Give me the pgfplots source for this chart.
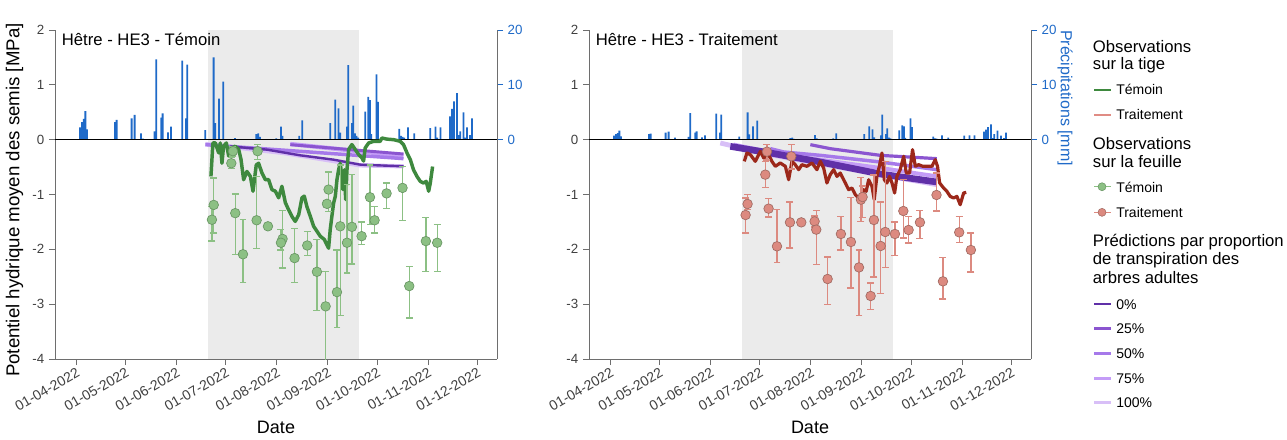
\documentclass[border=0pt]{standalone}
\usepackage{fontspec}
\setmainfont{Liberation Sans}
\usepackage{pgfplots}
\usepackage{pgfplotstable}
\pgfplotsset{compat=1.18}

\definecolor{rainblue}{RGB}{31,106,200}
\definecolor{axisgray}{RGB}{110,110,110}
\definecolor{summer}{RGB}{235,235,235}
\definecolor{stemT}{RGB}{62,137,62}
\definecolor{leafT}{RGB}{140,192,132}
\definecolor{leafTedge}{RGB}{105,150,100}
\definecolor{stemR}{RGB}{156,40,26}
\definecolor{stemRleg}{RGB}{224,140,132}
\definecolor{leafR}{RGB}{220,138,128}
\definecolor{leafRedge}{RGB}{160,106,98}
\definecolor{pA}{RGB}{96,48,168}
\definecolor{pB}{RGB}{139,85,208}
\definecolor{pC}{RGB}{166,121,234}
\definecolor{pD}{RGB}{196,156,247}
\definecolor{pE}{RGB}{216,191,247}

% precipitation (mm), control
\pgfplotstableread{
day mm
93.25 2.25
94.47 3.2
95.44 3.8
96.48 5.2
97.51 1.9
114.54 3.2
115.51 3.6
124.64 3.9
126.47 4.5
130.36 1.15
131.58 0.2
138.64 1.5
139.67 14.65
142.71 4.0
143.5 4.8
146.79 1.35
148.61 2.4
155.49 14.4
157.74 3.9
158.53 13.7
169.48 1.76
174.53 15.0
175.56 3.0
177.82 7.5
180.43 10.6
187.55 0.3
200.51 1.0
201.73 1.15
202.76 0.5
212.68 0.25
215.54 2.4
216.51 0.7
226.67 0.7
228.5 3.5
245.53 3.0
248.57 7.3
250.58 5.7
251.61 1.3
255.69 2.4
256.48 13.6
258.73 3.0
259.52 6.2
260.56 1.15
261.53 0.7
262.56 0.35
266.82 5.1
268.65 7.8
269.68 7.2
270.47 1.0
273.7 11.9
274.55 6.9
277.96 0.25
287.51 1.95
288.54 0.7
289.52 0.5
290.55 0.35
292.8 2.25
296.63 1.15
306.37 2.1
309.59 2.4
310.63 0.35
312.63 2.25
318.35 4.25
319.57 5.6
320.78 7.0
322.61 8.5
323.58 0.85
324.61 1.5
326.62 5.0
327.65 0.35
328.68 2.25
330.51 0.85
331.73 3.9
}\rainT

% precipitation (mm), treatment
\pgfplotstableread{
day mm
93.25 0.73
94.47 1.03
95.44 1.2
96.48 1.64
97.51 0.6
114.54 1.03
115.51 1.1
124.64 1.28
126.47 1.46
130.36 0.36
131.58 0.07
138.64 0.49
139.67 4.86
142.71 1.28
143.5 1.52
146.79 0.43
148.61 0.79
155.49 4.74
157.74 1.28
158.53 4.56
169.48 0.55
174.53 4.98
175.56 0.97
177.82 2.43
180.43 3.47
187.55 0.1
200.51 0.3
201.73 0.36
202.76 0.15
212.68 0.08
215.54 0.85
216.51 0.23
226.67 0.23
228.5 1.16
245.53 1.0
248.57 2.43
250.58 1.9
251.61 0.43
255.69 0.8
256.48 4.56
258.73 1.03
259.52 2.07
260.56 0.36
261.53 0.23
262.56 0.12
266.82 1.7
268.65 2.6
269.68 2.43
270.47 0.33
273.7 3.9
274.55 2.3
277.96 0.08
287.51 0.55
288.54 0.23
289.52 0.17
290.55 0.12
292.8 0.79
296.63 0.36
306.37 0.73
309.59 0.79
310.63 0.12
312.63 0.79
318.35 1.46
319.57 1.83
320.78 2.3
322.61 2.8
323.58 0.28
324.61 1.03
326.62 1.64
327.65 0.12
328.68 0.73
330.51 0.28
331.73 1.28
}\rainR

% stem water potential, control
\pgfplotstableread{
day psi
172.9 -0.67
174.1 -0.06
175.6 -0.06
177.6 -0.24
178.6 -0.06
179.6 -0.43
180.6 -0.12
182.3 -0.06
183.7 -0.30
185.7 -0.15
187.7 -0.12
189.8 -0.18
191.2 -0.36
192.8 -0.73
194.8 -0.58
196.9 -0.67
198.5 -0.94
200.5 -0.46
201.9 -0.43
204.0 -0.61
206.0 -0.73
208.0 -0.73
210.0 -0.91
212.1 -0.94
214.1 -1.06
216.1 -0.85
218.2 -1.15
220.2 -1.28
222.2 -1.40
224.2 -1.49
226.3 -1.37
228.3 -1.06
229.7 -1.03
231.3 -1.22
233.4 -1.40
235.4 -1.58
237.4 -1.67
239.4 -1.76
241.9 -1.82
244.5 -1.98
245.5 -1.64
246.5 -1.40
247.6 -1.15
248.6 -1.03
249.6 -0.73
250.6 -0.55
251.6 -0.43
252.6 -0.67
253.2 -0.91
254.1 -0.55
254.9 -1.09
255.7 -0.55
256.7 -0.18
258.7 -0.09
260.7 -0.18
262.8 -0.27
264.8 -0.33
265.8 -0.39
266.8 -0.15
268.9 -0.06
271.9 -0.03
275.9 -0.03
277.0 0.03
280.0 0.01
284.1 0.00
288.1 -0.03
290.1 -0.09
292.2 -0.24
294.2 -0.36
296.2 -0.55
298.3 -0.67
300.3 -0.76
302.3 -0.79
303.9 -0.76
305.4 -0.94
306.4 -0.79
307.8 -0.49
}\stemTab

% stem water potential, treatment
\pgfplotstableread{
day psi
172.5 -0.395
174.1 -0.243
176.2 -0.273
179.2 -0.395
182.3 -0.213
184.3 -0.334
187.3 -0.273
189.3 -0.395
191.4 -0.486
194.4 -0.425
197.5 -0.486
199.5 -0.730
201.5 -0.395
203.5 -0.456
205.6 -0.547
207.6 -0.456
210.6 -0.486
213.7 -0.425
216.7 -0.547
218.8 -0.395
220.8 -0.517
222.8 -0.790
224.8 -0.638
226.9 -0.547
228.9 -0.669
230.9 -0.608
234.0 -0.790
236.0 -0.912
238.0 -0.881
240.1 -1.003
242.1 -1.064
243.5 -1.094
245.1 -0.912
246.7 -0.942
248.2 -0.730
250.2 -0.851
251.6 -1.094
253.2 -0.669
254.7 -0.486
256.3 -0.243
257.7 -0.730
259.3 -0.790
260.9 -0.669
262.4 -0.790
264.0 -0.973
265.4 -0.669
267.4 -0.547
269.5 -0.304
271.1 -0.608
273.1 -0.608
274.9 -0.182
276.6 -0.486
278.6 -0.456
281.2 -0.486
283.7 -0.486
286.7 -0.486
288.7 -0.365
290.1 -0.486
291.4 -0.790
293.8 -0.881
295.8 -0.942
297.8 -1.034
299.9 -1.064
301.9 -1.034
303.9 -1.186
306.0 -0.973
307.6 -0.961
}\stemRab

% leaf water potential, control (mean, +err, -err)
\pgfplotstableread{
day psi ep em
174.6 -1.19 0.49 0.51
173.5 -1.46 0.24 0.39
186.3 -0.21 0.09 0.09
185.3 -0.43 0.10 0.10
187.7 -1.34 0.35 0.76
192.4 -2.09 0.64 0.52
201.3 -0.21 0.12 0.15
200.7 -1.47 0.80 0.51
207.6 -1.58 0.00 0.00
216.5 -1.81 0.52 0.53
215.5 -1.88 0.24 0.13
223.8 -2.16 0.54 0.44
231.5 -1.93 0.26 0.18
237.4 -2.41 0.59 0.70
242.7 -3.04 0.64 1.03
244.5 -0.91 0.32 0.40
243.5 -1.17 0.05 0.05
249.6 -2.78 0.77 0.64
251.6 -1.58 1.12 1.63
255.7 -1.88 1.06 0.55
258.7 -1.59 0.95 0.68
264.6 -1.76 0.26 0.15
269.7 -1.05 0.59 0.50
272.5 -1.47 0.25 0.23
279.8 -0.98 0.19 0.27
289.5 -0.88 0.39 0.59
293.6 -2.67 0.36 0.58
303.7 -1.85 0.43 0.55
310.6 -1.88 0.33 0.53
}\leafTab

% leaf water potential, treatment
\pgfplotstableread{
day psi ep em
174.5 -1.173 0.17 0.10
173.3 -1.374 0.31 0.33
186.3 -0.219 0.13 0.15
185.3 -0.638 0.24 0.23
187.3 -1.258 0.19 0.15
192.4 -1.945 0.67 0.30
201.1 -0.304 0.21 0.23
200.3 -1.508 0.37 0.47
207.2 -1.508 0.00 0.00
215.3 -1.490 0.10 0.10
216.3 -1.641 0.35 0.64
223.2 -2.541 0.40 0.47
231.3 -1.720 0.32 0.29
237.4 -1.866 0.81 0.84
242.3 -2.330 0.32 0.88
243.5 -1.094 0.40 0.40
244.5 -1.046 0.20 0.37
249.4 -2.851 0.24 0.25
251.4 -1.465 0.82 1.04
255.5 -1.939 0.80 0.87
258.3 -1.684 1.29 0.65
264.2 -1.720 0.22 0.39
269.3 -1.301 0.57 0.49
272.5 -1.647 0.25 0.24
279.4 -1.508 0.22 0.29
289.5 -1.009 0.40 0.29
293.4 -2.584 0.43 0.32
303.3 -1.690 0.29 0.19
310.4 -2.012 0.31 0.40
}\leafRab

\pgfplotsset{
  panel/.style={
    scale only axis, width=331.5pt, height=246.75pt,
    xmin=78, xmax=347, ymin=-4, ymax=2,
    axis x line*=bottom, axis y line*=left,
    axis line style={axisgray, line width=0.7pt, -},
    tick align=outside, major tick length=4.5pt,
    every tick/.style={axisgray, line width=0.7pt},
    xtick={91,121,152,182,213,244,274,305,335},
    xticklabels={01-04-2022,01-05-2022,01-06-2022,01-07-2022,01-08-2022,01-09-2022,01-10-2022,01-11-2022,01-12-2022},
    xticklabel style={rotate=30, anchor=north east, inner sep=1pt, font=\fontsize{10.5}{12}\selectfont, text=black!75},
    ytick={-4,-3,-2,-1,0,1,2},
    yticklabel style={font=\fontsize{10}{12}\selectfont, text=black!75},
    /pgf/number format/assume math mode=true,
    xlabel={Date}, xlabel style={font=\fontsize{13.5}{15}\selectfont, yshift=-2.5pt},
  },
  rain/.style={
    scale only axis, width=331.5pt, height=246.75pt,
    xmin=78, xmax=347, ymin=-40, ymax=20,
    axis x line=none, axis y line*=right,
    axis line style={axisgray, line width=0.7pt, -},
    tick align=outside, major tick length=4.5pt,
    every tick/.style={rainblue, line width=0.7pt},
    ytick={0,10,20},
    yticklabel style={font=\fontsize{10}{12}\selectfont, text=rainblue},
    /pgf/number format/assume math mode=true,
  },
  bars/.style={ybar, bar width=1.1, bar shift=0pt, fill=rainblue, draw=none},
  leaf/.style={only marks, mark=*, mark size=3.6pt,
    error bars/y dir=both, error bars/y explicit},
}

\begin{document}
\begin{tikzpicture}
\path[use as bounding box] (0,0) rectangle (965.25pt,329.25pt);

% ---------- left panel: control ----------
\begin{axis}[rain, at={(41.25pt,60pt)}, anchor=south west]
  \addplot[fill=summer, draw=none] coordinates {(171.4,-40) (171.4,20) (263,20) (263,-40)} -- cycle;
  \addplot[bars] table[x=day, y=mm] {\rainT};
\end{axis}
\begin{axis}[panel, at={(41.25pt,60pt)}, anchor=south west,
    ylabel={Potentiel hydrique moyen des semis [MPa]},
    ylabel style={font=\fontsize{14}{15}\selectfont, at={(ticklabel cs:0.483)}}]
  \addplot[black, line width=0.8pt] coordinates {(78,0) (347,0)};
  \addplot[pE, line width=3.2pt] coordinates {(169.5,-0.079) (217.1,-0.243) (263.8,-0.468) (290.1,-0.486)};
  \addplot[pD, line width=3.2pt] coordinates {(221.2,-0.079) (290.1,-0.298)};
  \addplot[pC, line width=2.6pt] coordinates {(169.5,-0.091) (227.3,-0.213) (290.1,-0.346)};
  \addplot[pB, line width=2.2pt] coordinates {(221.2,-0.091) (290.1,-0.261)};
  \addplot[pA, line width=1.8pt] coordinates {(184.7,-0.122) (207.0,-0.182) (227.3,-0.286) (247.6,-0.365) (263.8,-0.456) (290.1,-0.486)};
  \addplot[stemT, line width=2.6pt, line join=round] table[x=day, y=psi] {\stemTab};
  \addplot[leaf, mark options={fill=leafT, draw=leafTedge, line width=0.5pt},
    error bars/error bar style={leafT, line width=1pt},
    error bars/error mark options={rotate=90, mark size=2.6pt, leafT, line width=1pt}]
    table[x=day, y=psi, y error plus=ep, y error minus=em] {\leafTab};
  \node[anchor=base west, inner sep=0pt, font=\fontsize{12.5}{14}\selectfont] at (rel axis cs:0,1) [xshift=5pt, yshift=-11.3pt] {Hêtre - HE3 - Témoin};
\end{axis}

% ---------- right panel: treatment ----------
\begin{axis}[rain, at={(441.75pt,60pt)}, anchor=south west,
    ylabel={Précipitations [mm]},
    every axis y label/.style={at={(rel axis cs:1,0.793)}, xshift=25.5pt, rotate=-90, anchor=center,
      font=\fontsize{12}{14}\selectfont, text=rainblue}]
  \addplot[fill=summer, draw=none] coordinates {(171.4,-40) (171.4,20) (263,20) (263,-40)} -- cycle;
  \addplot[bars] table[x=day, y=mm] {\rainR};
\end{axis}
\begin{axis}[panel, at={(441.75pt,60pt)}, anchor=south west]
  \addplot[black, line width=0.8pt] coordinates {(78,0) (347,0)};
  \addplot[pE, line width=3.6pt] coordinates {(157.9,-0.061) (188.3,-0.274) (255.3,-0.638) (289.7,-0.821)};
  \addplot[pD, line width=3pt] coordinates {(166.0,-0.091) (196.5,-0.274) (255.3,-0.517) (289.7,-0.669)};
  \addplot[pC, line width=2.6pt] coordinates {(188.3,-0.164) (196.5,-0.225) (218.8,-0.286) (255.3,-0.407) (289.7,-0.547)};
  \addplot[pB, line width=2.4pt] coordinates {(212.7,-0.091) (224.8,-0.164) (255.3,-0.286) (289.7,-0.346)};
  \addplot[pA, line width=5pt] coordinates {(164.0,-0.122) (188.3,-0.243) (218.8,-0.407) (255.3,-0.626) (289.7,-0.772)};
  \addplot[stemR, line width=2.4pt, line join=round] table[x=day, y=psi] {\stemRab};
  \addplot[leaf, mark options={fill=leafR, draw=leafRedge, line width=0.5pt},
    error bars/error bar style={leafR, line width=1pt},
    error bars/error mark options={rotate=90, mark size=2.6pt, leafR, line width=1pt}]
    table[x=day, y=psi, y error plus=ep, y error minus=em] {\leafRab};
  \node[anchor=base west, inner sep=0pt, font=\fontsize{12.5}{14}\selectfont] at (rel axis cs:0,1) [xshift=5pt, yshift=-11.3pt] {Hêtre - HE3 - Traitement};
\end{axis}

% ---------- legend ----------
\begin{scope}[every node/.style={anchor=base west, inner sep=0pt}]
  \node[font=\fontsize{12.5}{14}\selectfont] at (819.5pt,290.0pt) {Observations};
  \node[font=\fontsize{12.5}{14}\selectfont] at (819.5pt,277.3pt) {sur la tige};
  \draw[stemT, line width=2pt] (820.5pt,261.75pt) -- (833pt,261.75pt);
  \node[font=\fontsize{10.5}{12}\selectfont] at (837pt,258.0pt) {Témoin};
  \draw[stemRleg, line width=2pt] (820.5pt,243pt) -- (833pt,243pt);
  \node[font=\fontsize{10.5}{12}\selectfont] at (837pt,239.25pt) {Traitement};

  \node[font=\fontsize{12.5}{14}\selectfont] at (819.5pt,216.75pt) {Observations};
  \node[font=\fontsize{12.5}{14}\selectfont] at (819.5pt,203.8pt) {sur la feuille};
  \draw[leafT, line width=0.8pt] (820.5pt,189.2pt) -- (833pt,189.2pt);
  \filldraw[fill=leafT, draw=leafTedge, line width=0.4pt] (826.5pt,189.2pt) circle (3pt);
  \node[font=\fontsize{10.5}{12}\selectfont] at (837pt,185.0pt) {Témoin};
  \draw[leafR, line width=0.8pt] (820.5pt,170pt) -- (833pt,170pt);
  \filldraw[fill=leafR, draw=leafRedge, line width=0.4pt] (826.5pt,170pt) circle (3pt);
  \node[font=\fontsize{10.5}{12}\selectfont] at (837pt,166.3pt) {Traitement};

  \node[font=\fontsize{12.5}{14}\selectfont] at (819.5pt,144.2pt) {Prédictions par proportion};
  \node[font=\fontsize{12.5}{14}\selectfont] at (819.5pt,130.5pt) {de transpiration des};
  \node[font=\fontsize{12.5}{14}\selectfont] at (819.5pt,116.8pt) {arbres adultes};
  \draw[pA, line width=2pt] (820.5pt,101.25pt) -- (833pt,101.25pt);
  \node[font=\fontsize{10.5}{12}\selectfont] at (837pt,97.3pt) {0\%};
  \draw[pB, line width=2pt] (820.5pt,83pt) -- (833pt,83pt);
  \node[font=\fontsize{10.5}{12}\selectfont] at (837pt,79.3pt) {25\%};
  \draw[pC, line width=2pt] (820.5pt,64.3pt) -- (833pt,64.3pt);
  \node[font=\fontsize{10.5}{12}\selectfont] at (837pt,60.5pt) {50\%};
  \draw[pD, line width=2pt] (820.5pt,45.5pt) -- (833pt,45.5pt);
  \node[font=\fontsize{10.5}{12}\selectfont] at (837pt,41.8pt) {75\%};
  \draw[pE, line width=2pt] (820.5pt,27.2pt) -- (833pt,27.2pt);
  \node[font=\fontsize{10.5}{12}\selectfont] at (837pt,23.5pt) {100\%};
\end{scope}
\end{tikzpicture}
\end{document}
